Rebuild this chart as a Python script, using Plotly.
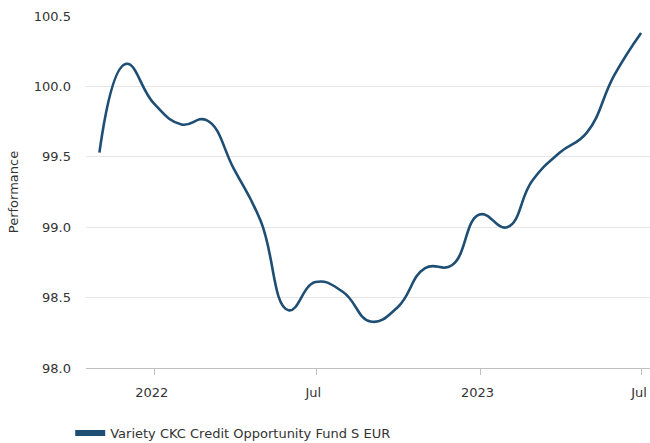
import plotly.graph_objects as go

dates = ["2021-10-31", "2021-11-30", "2021-12-31", "2022-01-31", "2022-02-28",
         "2022-03-31", "2022-04-30", "2022-05-31", "2022-06-30", "2022-07-31",
         "2022-08-31", "2022-09-30", "2022-10-31", "2022-11-30", "2022-12-31",
         "2023-01-31", "2023-02-28", "2023-03-31", "2023-04-30", "2023-05-31",
         "2023-06-30"]
performance = [99.53, 100.16, 99.88, 99.73, 99.76,
               99.41, 99.04, 98.41, 98.61, 98.54,
               98.33, 98.43, 98.71, 98.73, 99.09,
               99.00, 99.33, 99.53, 99.67, 100.08,
               100.38]
series_name = "Variety CKC Credit Opportunity Fund S EUR"
tick_dates = ["2022-01-01", "2022-07-01", "2023-01-01", "2023-07-01"]
tick_labels = ["2022", "Jul", "2023", "Jul"]
y_ticks = [98.0, 98.5, 99.0, 99.5, 100.0, 100.5]

color = "#1f4e74"
font = "DejaVu Sans, Verdana, sans-serif"

fig = go.Figure()
fig.add_trace(go.Scatter(
    x=dates, y=performance, mode="lines",
    line=dict(color=color, width=2.6, shape="spline", smoothing=1.3),
    showlegend=False, hoverinfo="x+y",
))
fig.add_trace(go.Scatter(
    x=[None], y=[None], mode="lines", name=series_name,
    line=dict(color=color, width=6),
))

fig.update_layout(
    width=650, height=443,
    margin=dict(l=86, r=0, t=16, b=75, autoexpand=False),
    paper_bgcolor="white", plot_bgcolor="white",
    font=dict(family=font, size=13, color="#333333"),
    showlegend=True,
    legend=dict(
        orientation="h",
        x=-0.028, y=-0.185, xanchor="left", yanchor="middle",
        font=dict(family=font, size=13, color="#333333"),
        itemwidth=30, bgcolor="rgba(0,0,0,0)",
    ),
)
fig.update_xaxes(
    type="date", range=["2021-10-16", "2023-07-10"],
    tickvals=tick_dates, ticktext=tick_labels,
    ticks="outside", ticklen=6, tickcolor="#c0c0c0", tickwidth=1,
    showline=True, linecolor="#c0c0c0", linewidth=1,
    showgrid=False, zeroline=False, automargin=False,
    tickfont=dict(family=font, size=13, color="#333333"),
    ticklabelstandoff=6, ticklabelshift=-3,
)
fig.update_yaxes(
    range=[98.0, 100.5], tickvals=y_ticks,
    tickformat=".1f", automargin=False,
    showgrid=True, gridcolor="#e6e6e6", gridwidth=1,
    showline=False, zeroline=False, ticks="",
    tickfont=dict(family=font, size=13, color="#333333"),
    ticklabelstandoff=14,
    title=dict(text="Performance", font=dict(family=font, size=13, color="#333333"), standoff=12),
)

fig.write_html("out.html", config={"displayModeBar": False},
               post_script="document.body.style.margin='0';")
